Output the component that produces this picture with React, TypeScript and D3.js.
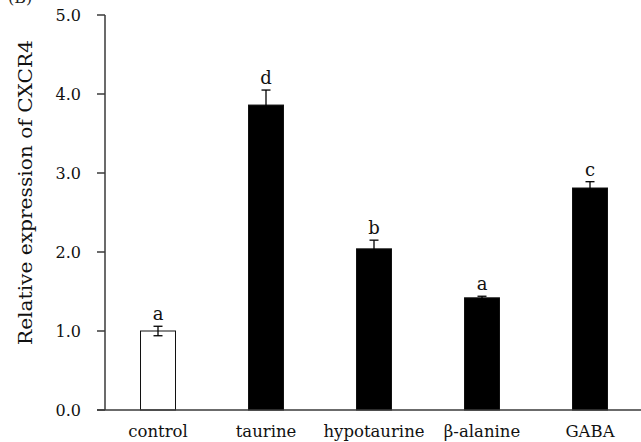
import React from "react";
import * as d3 from "d3";

const categories = ["control", "taurine", "hypotaurine", "β-alanine", "GABA"];
const values = [1.0, 3.86, 2.04, 1.42, 2.81];
const errors = [0.06, 0.19, 0.11, 0.02, 0.08];
const letters = ["a", "d", "b", "a", "c"];
const fills = ["#ffffff", "#000000", "#000000", "#000000", "#000000"];
const yTicks = [0, 1, 2, 3, 4, 5];

const W = 641;
const H = 442;
const font = "'DejaVu Serif', serif";

export default function App() {
  const y = d3.scaleLinear().domain([0, 5]).range([410, 15]);
  const x = d3
    .scaleBand<string>()
    .domain(categories)
    .range([104, 644])
    .paddingInner(0.676)
    .paddingOuter(0.338);
  const bw = x.bandwidth();
  const axisColor = "#3a3a3a";
  return (
    <div style={{ position: "absolute", left: 0, top: 0 }}>
      <svg width={W} height={H} style={{ display: "block", background: "#fff" }}>
        <text x={8} y={3} fontFamily={font} fontSize={16} fill="#222">(B)</text>
        {/* bars */}
        {categories.map((c, i) => (
          <rect
            key={c}
            x={x(c)!}
            y={y(values[i])}
            width={bw}
            height={y(0) - y(values[i])}
            fill={fills[i]}
            stroke="#111"
            strokeWidth={1}
          />
        ))}
        {/* error bars */}
        {categories.map((c, i) => {
          const cx = x(c)! + bw / 2;
          const top = y(values[i] + errors[i]);
          const bot = y(values[i] - errors[i]);
          return (
            <g key={"e" + c} stroke="#000" strokeWidth={1.3}>
              <line x1={cx} x2={cx} y1={top} y2={bot} />
              <line x1={cx - 4.5} x2={cx + 4.5} y1={top} y2={top} />
              <line x1={cx - 4.5} x2={cx + 4.5} y1={bot} y2={bot} />
            </g>
          );
        })}
        {/* letters */}
        {categories.map((c, i) => (
          <text
            key={"l" + c}
            x={x(c)! + bw / 2}
            y={y(values[i] + errors[i]) - 6}
            textAnchor="middle"
            fontFamily={font}
            fontSize={18}
            fill="#111"
          >
            {letters[i]}
          </text>
        ))}
        {/* axes */}
        <line x1={105} x2={105} y1={y(5)} y2={y(0)} stroke={axisColor} strokeWidth={1.5} />
        <line x1={97} x2={641} y1={y(0)} y2={y(0)} stroke={axisColor} strokeWidth={1.5} />
        {yTicks.map((t) => (
          <g key={"t" + t}>
            <line x1={97} x2={105} y1={y(t)} y2={y(t)} stroke={axisColor} strokeWidth={1.5} />
            <text
              x={81}
              y={y(t)}
              dy="0.35em"
              textAnchor="end"
              fontFamily={font}
              fontSize={16}
              fill="#111"
            >
              {t.toFixed(1)}
            </text>
          </g>
        ))}
        {categories.map((c) => (
          <text
            key={"c" + c}
            x={x(c)! + bw / 2}
            y={437}
            textAnchor="middle"
            fontFamily={font}
            fontSize={16.5}
            fill="#111"
          >
            {c}
          </text>
        ))}
        <text
          transform={`translate(32,${(38 + 347) / 2}) rotate(-90)`}
          textAnchor="middle"
          fontFamily={font}
          fontSize={19}
          textLength={305}
          lengthAdjust="spacingAndGlyphs"
          fill="#111"
        >
          Relative expression of CXCR4
        </text>
      </svg>
    </div>
  );
}
